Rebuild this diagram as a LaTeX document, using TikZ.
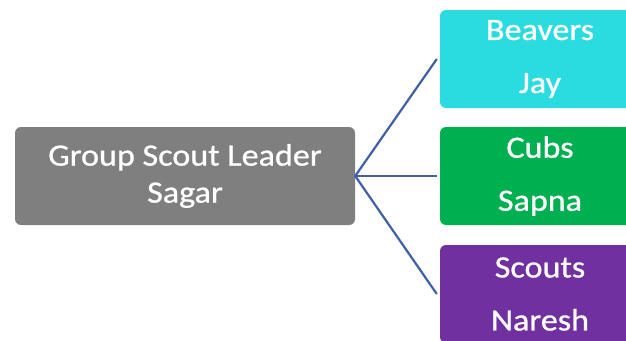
\documentclass[tikz,border=0pt]{standalone}
\usepackage{fontspec}
\setmainfont[FakeStretch=1.1,FakeBold=0.8]{Carlito}
\definecolor{boxgray}{HTML}{7F7F7F}
\definecolor{boxcyan}{HTML}{2ADBE0}
\definecolor{boxgreen}{HTML}{00B050}
\definecolor{boxpurple}{HTML}{7030A0}
\definecolor{linkblue}{HTML}{3F5FA8}
\tikzset{
  unitbox/.style={rectangle, rounded corners=6pt, inner sep=0pt, align=center, text=white},
  leaderbox/.style={unitbox, fill=boxgray, minimum width=340pt, minimum height=98pt,
    font=\fontsize{31}{37}\selectfont},
  sectionbox/.style={unitbox, minimum width=200pt, minimum height=98pt,
    font=\fontsize{31}{53}\selectfont},
  link/.style={draw=linkblue, line width=2.2pt}
}
\begin{document}
\begin{tikzpicture}[x=1pt,y=-1pt]
\clip (0,0) rectangle (626,340);
\fill[white] (0,0) rectangle (626,340);
\node[leaderbox] (gsl) at (185,176) {Group Scout Leader\\Sagar};
\node[sectionbox, fill=boxcyan] (beavers) at (540,59) {Beavers\\Jay};
\node[sectionbox, fill=boxgreen] (cubs) at (540,176) {Cubs\\Sapna};
\node[sectionbox, fill=boxpurple] (scouts) at (540,294) {Scouts\\Naresh};
\draw[link] (gsl.east) -- ([xshift=-3pt]beavers.west);
\draw[link] (gsl.east) -- ([xshift=-3pt]cubs.west);
\draw[link] (gsl.east) -- ([xshift=-3pt]scouts.west);
\end{tikzpicture}
\end{document}
